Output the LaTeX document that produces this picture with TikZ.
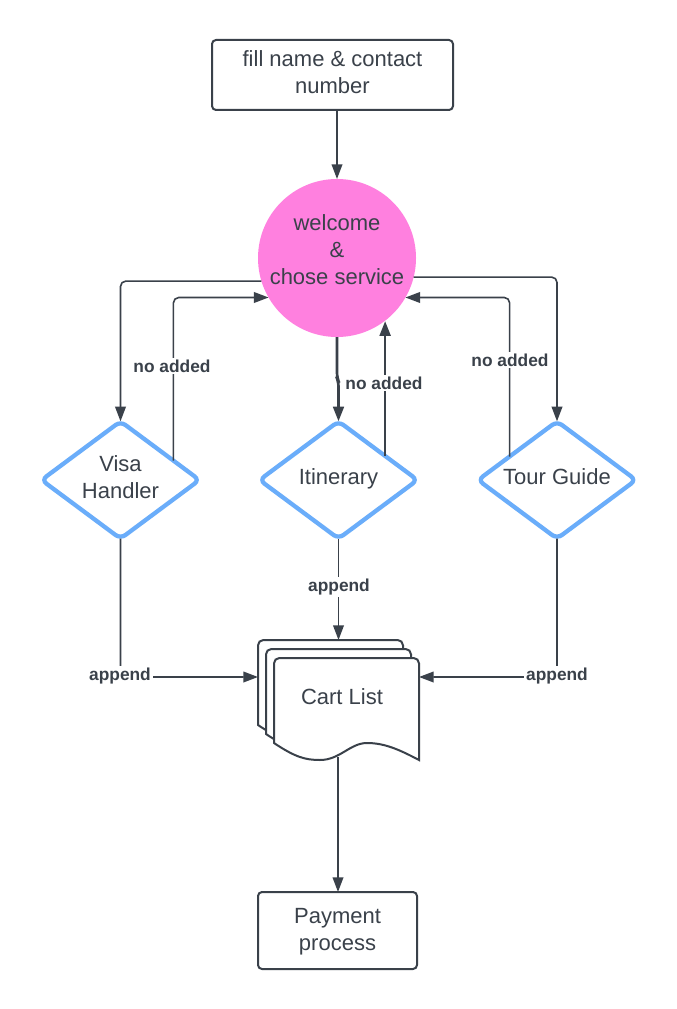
\documentclass[tikz,border=0pt]{standalone}
\usepackage{fontspec}
\setmainfont{Liberation Sans}
\usetikzlibrary{shapes.geometric,arrows.meta,calc}
\definecolor{ink}{HTML}{3A414A}
\definecolor{pinkfill}{HTML}{FF80DF}
\definecolor{skyb}{HTML}{6AADFA}
\tikzset{
  txt/.style={font=\fontsize{16.5}{20.25}\selectfont, text=ink, align=center},
  box/.style={draw=ink, line width=1.5pt, rounded corners=3pt, fill=white, inner sep=0pt, outer sep=0pt},
  dia/.style={diamond, draw=skyb, line width=3.2pt, rounded corners=4.5pt, minimum width=118.5pt, minimum height=88pt, inner sep=0pt, outer sep=0pt, fill=white},
  lab/.style={font=\fontsize{13}{15}\selectfont\bfseries, text=ink, fill=white, inner sep=1.5pt},
  conn/.style={draw=ink, line width=1.2pt, rounded corners=4pt, -{Triangle[length=11pt,width=8pt]}},
  heavy/.style={conn, line width=2pt},
  sheet/.style={draw=ink, line width=1.5pt, fill=white}
}
\begin{document}
\begin{tikzpicture}[x=0.75pt,y=-0.75pt]
\useasboundingbox (0,0) rectangle (677,1009);
\fill[white] (0,0) rectangle (677,1009);

% shapes
\node[box, minimum width=180.75pt, minimum height=52.5pt] (top) at (332.5,75) {};
\node[circle, fill=pinkfill, minimum size=118.5pt, inner sep=0pt, outer sep=0pt] (circ) at (337,258) {};
\node[dia] (visa) at (120.5,480) {};
\node[dia] (itin) at (338.5,480) {};
\node[dia] (tour) at (557,480) {};
\node[minimum width=120.75pt, minimum height=90pt, inner sep=0pt, outer sep=0pt] (cart) at (338.5,700) {};
\node[box, minimum width=119.25pt, minimum height=57.75pt] (pay) at (337.5,930.5) {};

% texts
\node[txt] (toptext) at (332.5,72) {fill name \& contact\\number};
\node[txt] (circtext) at (337,250) {welcome\\\&\\chose service};
\node[txt] (visatext) at (120.5,477) {Visa\\Handler};
\node[txt] (itintext) at (338.5,479) {Itinerary};
\node[txt] (tourtext) at (557,477) {Tour Guide};
\node[txt] (paytext) at (337.5,932) {Payment\\process};

% cart list sheets
\foreach \dx/\dy in {258/640, 266/649, 274/658}{
  \begin{scope}[shift={(\dx,\dy)}]
    \draw[sheet] (0,85) [rounded corners=4pt] -- (0,0) -- (145,0) [sharp corners] -- (145,102)
      .. controls (126,92) and (111,85) .. (93,85)
      .. controls (76,85) and (66,102) .. (46,102)
      .. controls (31,102) and (21,99) .. (0,85) -- cycle;
  \end{scope}
}
\node[txt] (cartlabel) at (342,697) {Cart List};

% helper coordinates
\coordinate (vr) at ($(visa.north)!0.67!(visa.east)$);
\coordinate (iu) at ($(itin.north)!0.59!(itin.east)$);
\coordinate (tr) at ($(tour.north)!0.6!(tour.west)$);
\coordinate (arow) at (338.5,677);
\coordinate (cartbot) at (338,757);

% connectors
\draw[conn] (circ.north |- top.south) -- (circ.north);
\draw[conn] (circ.197) -| (visa.north);
\draw[conn] (vr) |- (circ.210);
\draw[heavy] (circ.south) -- ++(0,41) -- ($(itin.north)+(0,-40)$) -- (itin.north);
\draw[heavy] (iu) -- (iu |- circ.-53.5);
\draw[conn] (tr) |- (circ.-30);
\draw[conn] (circ.-14) -| (tour.north);
\draw[conn] (visa.south) |- (cart.west |- arow);
\draw[conn] (tour.south) |- (cart.east |- arow);
\draw[conn] (itin.south) -- (itin.south |- cart.north);
\draw[conn] (cartbot) -- (cartbot |- pay.north);

% labels
\node[lab] (l1) at (172,366) {no added};
\node[lab] (l2) at (384,383) {no added};
\node[lab] (l3) at (510,360) {no added};
\node[lab] (a1) at (339,587) {append};
\node[lab] (a2) at (120,676) {append};
\node[lab] (a3) at (557,676) {append};
\end{tikzpicture}
\end{document}
